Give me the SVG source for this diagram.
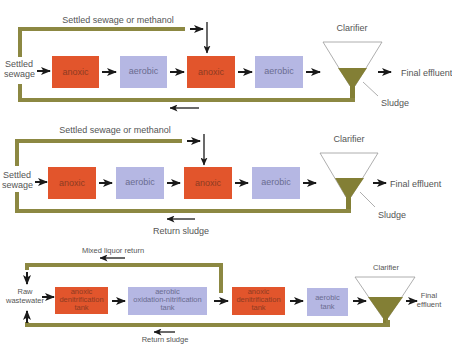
<svg xmlns="http://www.w3.org/2000/svg" width="452" height="345" viewBox="0 0 452 345">
<style>
text{font-family:"Liberation Sans",Arial,sans-serif;fill:#555}
.lbl{font-size:9px}
.sm{font-size:7.5px}
.anx{fill:#e2552c}
.aer{fill:#b5b7e3}
.tanx{fill:#8e3b22;text-anchor:middle}
.taer{fill:#6a6c90;text-anchor:middle}
.pipe{fill:none;stroke:#8c8842;stroke-width:4}
.arr{stroke:#1a1a1a;stroke-width:2;fill:none;marker-end:url(#ah)}
.arrt{stroke:#1a1a1a;stroke-width:1.3;fill:none;marker-end:url(#ah2)}
.fun{fill:#fff;stroke:#999;stroke-width:0.8}
.sl{fill:#837f35}
.ln{stroke:#999;stroke-width:0.8}
.mid{text-anchor:middle}
</style>
<defs>
<marker id="ah" markerUnits="userSpaceOnUse" markerWidth="10" markerHeight="8" refX="9" refY="4" orient="auto"><path d="M0,0 L10,4 L0,8 L2.5,4 z" fill="#1a1a1a"/></marker>
<marker id="ah2" markerUnits="userSpaceOnUse" markerWidth="8" markerHeight="7" refX="7.5" refY="3.5" orient="auto"><path d="M0,0 L8,3.5 L0,7 L2,3.5 z" fill="#1a1a1a"/></marker>
</defs>
<rect width="452" height="345" fill="#fff"/>

<!-- Panel 1 -->
<g id="p1-labels">
<text class="lbl mid" x="118" y="23">Settled sewage or methanol</text>
<text class="lbl" x="5" y="67">Settled</text>
<text class="lbl" x="4" y="77">sewage</text>
<text class="lbl mid" x="352" y="31">Clarifier</text>
<text class="lbl" x="401" y="76">Final effluent</text>
<text class="lbl" x="381" y="106">Sludge</text>
</g>
<g id="p1-anoxic1"><rect class="anx" x="52" y="56" width="47" height="32"/><text class="lbl tanx" x="75.5" y="75">anoxic</text></g>
<g id="p1-aerobic1"><rect class="aer" x="120" y="56" width="47" height="32"/><text class="lbl taer" x="143.5" y="74">aerobic</text></g>
<g id="p1-anoxic2"><rect class="anx" x="187" y="56" width="48" height="32"/><text class="lbl tanx" x="211" y="75">anoxic</text></g>
<g id="p1-aerobic2"><rect class="aer" x="255" y="56" width="48" height="32"/><text class="lbl taer" x="279" y="74">aerobic</text></g>
<g id="p1-clarifier">
<polygon class="fun" points="323,42 382,42 355,86 350,86"/>
<polygon class="sl" points="338,68 367,68 355,86 350,86"/>
<rect class="sl" x="350" y="85" width="5" height="14"/>
<line class="ln" x1="363" y1="82" x2="378" y2="96"/>
</g>
<g id="p1-connectors">
<path class="pipe" d="M185,29 H20 V57"/>
<path class="pipe" d="M20,84 V100 H355"/>
<line class="arr" x1="190" y1="29" x2="203" y2="29"/>
<line class="arrt" x1="207" y1="22" x2="207" y2="53"/>
<line class="arr" x1="37" y1="71" x2="50" y2="71"/>
<line class="arr" x1="102" y1="72" x2="116" y2="72"/>
<line class="arr" x1="170" y1="72" x2="184" y2="72"/>
<line class="arr" x1="238" y1="72" x2="252" y2="72"/>
<line class="arr" x1="306" y1="72" x2="320" y2="72"/>
<line class="arr" x1="378" y1="72" x2="391" y2="72"/>
<line class="arrt" x1="199" y1="108" x2="170" y2="108"/>
</g>

<!-- Panel 2 -->
<g id="p2-labels">
<text class="lbl mid" x="115" y="133">Settled sewage or methanol</text>
<text class="lbl" x="3" y="178">Settled</text>
<text class="lbl" x="2" y="188">sewage</text>
<text class="lbl mid" x="349" y="142">Clarifier</text>
<text class="lbl" x="390" y="187">Final effluent</text>
<text class="lbl" x="378" y="218">Sludge</text>
<text class="lbl mid" x="181" y="234">Return sludge</text>
</g>
<g id="p2-anoxic1"><rect class="anx" x="48" y="167" width="48" height="32"/><text class="lbl tanx" x="72" y="186">anoxic</text></g>
<g id="p2-aerobic1"><rect class="aer" x="116" y="167" width="48" height="32"/><text class="lbl taer" x="140" y="185">aerobic</text></g>
<g id="p2-anoxic2"><rect class="anx" x="184" y="167" width="48" height="32"/><text class="lbl tanx" x="208" y="186">anoxic</text></g>
<g id="p2-aerobic2"><rect class="aer" x="252" y="167" width="48" height="32"/><text class="lbl taer" x="276" y="185">aerobic</text></g>
<g id="p2-clarifier">
<polygon class="fun" points="320,153 378,153 351,197 346,197"/>
<polygon class="sl" points="335,178 364,178 351,197 346,197"/>
<rect class="sl" x="346" y="196" width="5" height="14"/>
<line class="ln" x1="360" y1="192" x2="375" y2="207"/>
</g>
<g id="p2-connectors">
<path class="pipe" d="M182,141 H17 V166"/>
<path class="pipe" d="M17,192 V211 H351"/>
<line class="arr" x1="187" y1="141" x2="200" y2="141"/>
<line class="arrt" x1="204" y1="134" x2="204" y2="165"/>
<line class="arr" x1="35" y1="182" x2="47" y2="182"/>
<line class="arr" x1="99" y1="183" x2="112" y2="183"/>
<line class="arr" x1="167" y1="183" x2="180" y2="183"/>
<line class="arr" x1="235" y1="183" x2="248" y2="183"/>
<line class="arr" x1="303" y1="183" x2="316" y2="183"/>
<line class="arr" x1="373" y1="183" x2="386" y2="183"/>
<line class="arrt" x1="195" y1="219" x2="167" y2="219"/>
</g>

<!-- Panel 3 -->
<g id="p3-labels">
<text class="sm mid" x="113" y="253">Mixed liquor return</text>
<text class="sm mid" x="25" y="294">Raw</text>
<text class="sm mid" x="25" y="303">wastewater</text>
<text class="sm mid" x="386" y="270">Clarifier</text>
<text class="sm mid" x="429" y="298">Final</text>
<text class="sm mid" x="429" y="307">effluent</text>
<text class="sm mid" x="165" y="342">Return sludge</text>
</g>
<g id="p3-anoxic1"><rect class="anx" x="55" y="287" width="53" height="27"/>
<text class="sm tanx" x="81.5" y="294">anoxic</text><text class="sm tanx" x="81.5" y="302">denitrification</text><text class="sm tanx" x="81.5" y="310">tank</text></g>
<g id="p3-aerobic1"><rect class="aer" x="128" y="287" width="79" height="28"/>
<text class="sm taer" x="167.5" y="294">aerobic</text><text class="sm taer" x="167.5" y="302">oxidation-nitrification</text><text class="sm taer" x="167.5" y="310">tank</text></g>
<g id="p3-anoxic2"><rect class="anx" x="232" y="287" width="53" height="28"/>
<text class="sm tanx" x="258.5" y="294">anoxic</text><text class="sm tanx" x="258.5" y="302">denitrification</text><text class="sm tanx" x="258.5" y="310">tank</text></g>
<g id="p3-aerobic2"><rect class="aer" x="307" y="288" width="41" height="28"/>
<text class="sm taer" x="327.5" y="300">aerobic</text><text class="sm taer" x="327.5" y="309">tank</text></g>
<g id="p3-clarifier">
<polygon class="fun" points="355,277 415,277 388,318 383,318"/>
<polygon class="sl" points="368,297 403,297 388,318 383,318"/>
<rect class="sl" x="383" y="317" width="5" height="7"/>
</g>
<g id="p3-connectors">
<path class="pipe" d="M27,270 V265 H221 V293"/>
<path class="pipe" d="M27,322 V325 H388 V320"/>
<line class="arrt" x1="125" y1="258" x2="100" y2="258"/>
<line class="arr" x1="27" y1="272" x2="27" y2="284"/>
<line class="arr" x1="27" y1="323" x2="27" y2="311"/>
<line class="arr" x1="42" y1="297" x2="54" y2="297"/>
<line class="arr" x1="112" y1="301" x2="125" y2="301"/>
<line class="arr" x1="214" y1="301" x2="228" y2="301"/>
<line class="arr" x1="290" y1="301" x2="303" y2="301"/>
<line class="arr" x1="353" y1="301" x2="366" y2="301"/>
<line class="arr" x1="406" y1="301" x2="417" y2="301"/>
<line class="arrt" x1="175" y1="332" x2="154" y2="332"/>
</g>
</svg>
